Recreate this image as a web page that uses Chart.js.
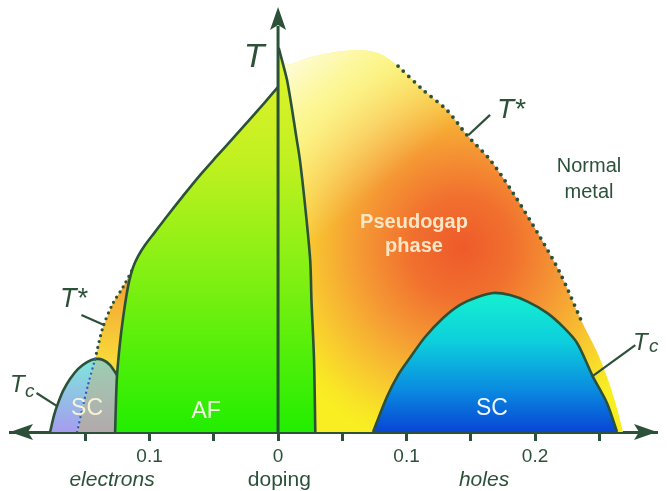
<!DOCTYPE html>
<html><head><meta charset="utf-8">
<script src="https://cdn.jsdelivr.net/npm/chart.js@4"></script>
<style>html,body{margin:0;padding:0;background:#fff}#wrap{width:667px;height:491px}</style>
</head><body><div id="wrap"><canvas id="c" width="667" height="491"></canvas></div>
<script>
// ---------- data (doping, T in arbitrary units 0..100) ----------
const xMin = -0.2086, xMax = 0.2949;
const tickValues = [-0.15, -0.1, -0.05, 0, 0.05, 0.1, 0.15, 0.2, 0.25];
const tickLabels = ['', '0.1', '', '0', '', '0.1', '', '0.2', ''];

// AF: electron-side boundary (up to the T axis)
const afLeftDoping = [-0.1268,-0.1261,-0.1253,-0.1230,-0.1206,-0.1183,-0.1160,-0.1128,-0.1089,-0.1035,-0.0957,-0.0864,-0.0739,-0.0607,-0.0475,-0.0350,-0.0218,-0.0101,0];
const afLeftT      = [0,7.5,13.4,21.0,26.9,31.6,35.4,38.9,41.5,44.1,47.2,50.9,55.7,60.6,65.1,69.3,73.8,77.8,81.4];
// AF: hole-side sliver boundary
const afRightDoping = [0.0005,0.004,0.007,0.011,0.014,0.017,0.021,0.025,0.026,0.028,0.029];
const afRightT      = [90.6,86.6,83.0,75.9,70.0,64.2,53.5,40.6,31.1,17.0,0];

// Pseudogap region (hole side)
const pgDoping = [0.0016,0.0016,0.0078,0.0249,0.0444,0.0638,0.0794,0.0934,0.1128,0.1315,0.1471,0.1650,0.1829,0.2039,0.2195,0.2358,0.2482,0.2568,0.2630,0.2685];
const pgT      = [0,87.3,86.6,88.4,89.6,90.1,89.2,86.3,80.7,75.9,70.0,64.2,56.4,46.0,37.5,26.4,18.9,12.3,6.4,0];
// T* (hole side, dotted)
const tStarHoleDoping = [0.0934,0.1128,0.1315,0.1471,0.1650,0.1829,0.2039,0.2195,0.2358];
const tStarHoleT      = [86.3,80.7,75.9,70.0,64.2,56.4,46.0,37.5,26.4];
// T* (electron side, dotted)
const tStarElecDoping = [-0.1424,-0.1362,-0.1284,-0.1206,-0.1128];
const tStarElecT      = [17.2,24.8,30.4,34.2,38.7];

// SC dome, hole side
const scHoleDoping = [0.0739,0.0848,0.0934,0.1027,0.1144,0.1284,0.1416,0.1549,0.1673,0.1805,0.1946,0.2093,0.2218,0.2327,0.2451,0.2560,0.2638];
const scHoleT      = [0,8.3,13.4,17.5,22.4,26.9,30.0,31.8,32.8,32.3,30.7,28.1,24.8,21.0,13.0,6.8,0];
// SC dome, electron side
const scElecDoping = [-0.1774,-0.1743,-0.1712,-0.1673,-0.1619,-0.1556,-0.1486,-0.1424,-0.1362,-0.1307,-0.1253];
const scElecT      = [0,4.0,6.8,9.7,12.5,14.9,16.5,17.2,17.0,15.8,13.4];
// dotted line inside the electron SC dome
const scElecLineDoping = [-0.1424,-0.1479,-0.1525,-0.1564];
const scElecLineT      = [17.2,11.1,5.2,0];

// ---------- helpers ----------
const ink = '#2c5139';
const fam = '"Liberation Sans", Arial, Helvetica, sans-serif';
const pts = (xs, ts) => xs.map((v, i) => ({x: v, y: ts[i]}));

function linGrad(chart, x0, t0, x1, t1, stops) {
  const {ctx, chartArea, scales} = chart;
  if (!chartArea) return stops[0][1];
  const g = ctx.createLinearGradient(scales.x.getPixelForValue(x0), scales.y.getPixelForValue(t0),
                                     scales.x.getPixelForValue(x1), scales.y.getPixelForValue(t1));
  stops.forEach(([o, c]) => g.addColorStop(o, c));
  return g;
}
function radGrad(chart, cx, ct, rDoping, stops) {
  const {ctx, chartArea, scales} = chart;
  if (!chartArea) return stops[0][1];
  const px = scales.x.getPixelForValue(cx), py = scales.y.getPixelForValue(ct);
  const r = Math.abs(scales.x.getPixelForValue(rDoping) - scales.x.getPixelForValue(0));
  const g = ctx.createRadialGradient(px, py, 0, px, py, r);
  stops.forEach(([o, c]) => g.addColorStop(o, c));
  return g;
}

const base = {pointRadius: 0, pointHoverRadius: 0, borderWidth: 0, fill: false, tension: 0};

// polygons built from the named arrays
const afPoly = pts(afLeftDoping, afLeftT).concat(pts(afRightDoping, afRightT));
const domeE = pts(scElecDoping, scElecT);
const lineE = pts(scElecLineDoping, scElecLineT);
const elecLeftPoly = domeE.slice(0, 8).concat(lineE.slice(1));
const elecRightPoly = lineE.slice(1).reverse().concat(domeE.slice(7)).concat([{x: scElecDoping[scElecDoping.length - 1], y: 0}]);
const wedgePoly = pts(tStarElecDoping, tStarElecT).concat([{x: -0.105, y: 0}, {x: tStarElecDoping[0], y: 0}]);

const datasets = [
  Object.assign({}, base, {data: pts(pgDoping, pgT), order: 20, fill: 'shape', tension: 0.25,
    backgroundColor: c => radGrad(c.chart, 0.143, 43.4, 0.16,
      [[0,'#ee5a2a'],[0.25,'#f1702e'],[0.5,'#f59a34'],[0.75,'#f8c830'],[0.92,'#f8e626'],[1,'#f8ee22']])}),
  Object.assign({}, base, {data: pts(pgDoping, pgT), order: 19, fill: 'shape', tension: 0.25,
    backgroundColor: c => linGrad(c.chart, 0.0054, 91.3, 0.091, 60.6,
      [[0,'rgba(255,255,250,0.95)'],[0.35,'rgba(255,253,235,0.6)'],[1,'rgba(255,255,255,0)']])}),
  Object.assign({}, base, {data: wedgePoly, order: 18, fill: 'shape',
    backgroundColor: c => linGrad(c.chart, -0.12, 38.7, -0.12, 17, [[0,'#f29a30'],[1,'#f8d83a']])}),
  Object.assign({}, base, {data: elecLeftPoly, order: 17, fill: 'shape',
    backgroundColor: c => linGrad(c.chart, -0.16, 17.2, -0.16, 0, [[0,'#7ee6da'],[1,'#a69cf0']])}),
  Object.assign({}, base, {data: elecRightPoly, order: 16, fill: 'shape',
    backgroundColor: c => linGrad(c.chart, -0.13, 17.2, -0.13, 0, [[0,'#9ccfb2'],[1,'#b4a8ac']])}),
  Object.assign({}, base, {data: afPoly, order: 15, fill: 'shape',
    backgroundColor: c => linGrad(c.chart, 0, 90.6, 0, 0,
      [[0,'#e4f22c'],[0.3,'#c0f020'],[0.6,'#80f012'],[1,'#22ee00']])}),
  Object.assign({}, base, {data: pts(scHoleDoping, scHoleT), order: 14, fill: 'shape', tension: 0.3,
    borderWidth: 2.6, borderColor: ink,
    backgroundColor: c => linGrad(c.chart, 0.17, 32.8, 0.17, 0,
      [[0,'#16f0d0'],[0.35,'#0dcfdc'],[0.7,'#0a8ae0'],[1,'#0846d4']])}),
  Object.assign({}, base, {data: pts(afLeftDoping, afLeftT), order: 13, tension: 0.3, borderWidth: 2.6, borderColor: ink}),
  Object.assign({}, base, {data: pts(afRightDoping, afRightT), order: 12, tension: 0.3, borderWidth: 2.6, borderColor: ink}),
  Object.assign({}, base, {data: domeE, order: 11, tension: 0.3, borderWidth: 2.6, borderColor: ink}),
  Object.assign({}, base, {data: pts(tStarHoleDoping, tStarHoleT), order: 10, tension: 0.3, borderWidth: 3.8,
    borderColor: ink, borderDash: [0, 7.5], borderCapStyle: 'round'}),
  Object.assign({}, base, {data: pts(tStarElecDoping, tStarElecT), order: 9, tension: 0.3, borderWidth: 3.2,
    borderColor: ink, borderDash: [0, 6], borderCapStyle: 'round'}),
  Object.assign({}, base, {data: lineE, order: 8, tension: 0.3, borderWidth: 2.4,
    borderColor: '#2a5fbf', borderDash: [0, 5], borderCapStyle: 'round'})
];

// ---------- decorations: axis arrows, labels ----------
const deco = {
  id: 'deco',
  afterDraw(chart) {
    const {ctx, scales: {x, y}} = chart;
    const X = v => x.getPixelForValue(v), Y = v => y.getPixelForValue(v);
    ctx.save();
    ctx.strokeStyle = ink; ctx.fillStyle = ink; ctx.lineWidth = 3;
    ctx.beginPath(); ctx.moveTo(X(0), Y(0) + 1.5); ctx.lineTo(X(0), Y(100) + 18); ctx.stroke();
    const head = (tx, ty, dx, dy) => {
      const L = 23, W = 8, N = 5, px = -dy, py = dx;
      ctx.beginPath(); ctx.moveTo(tx, ty);
      ctx.lineTo(tx - dx * L + px * W, ty - dy * L + py * W);
      ctx.lineTo(tx - dx * (L - N), ty - dy * (L - N));
      ctx.lineTo(tx - dx * L - px * W, ty - dy * L - py * W);
      ctx.closePath(); ctx.fill();
    };
    head(X(0), Y(100) - 1, 0, -1);
    head(x.left, Y(0), -1, 0);
    head(x.right, Y(0), 1, 0);

    ctx.lineWidth = 2.2;
    [[[0.165,74.8],[0.148,70.0]], [[-0.153,27.6],[-0.135,25.2]],
     [[0.278,20.5],[0.244,13.0]], [[-0.188,9.2],[-0.172,6.1]]].forEach(([a, b]) => {
      ctx.beginPath(); ctx.moveTo(X(a[0]), Y(a[1])); ctx.lineTo(X(b[0]), Y(b[1])); ctx.stroke();
    });

    const labels = [
      ['T', -0.0187, 86.1, 'italic 34px', ink, 'center'],
      ['T*', 0.1704, 74.1, 'italic 28px', ink, 'left'],
      ['T*', -0.1696, 29.5, 'italic 27px', ink, 'left'],
      ['T', 0.2763, 19.3, 'italic 24px', ink, 'left'],
      ['c', 0.2887, 18.9, 'italic 19px', ink, 'left'],
      ['T', -0.2086, 9.4, 'italic 24px', ink, 'left'],
      ['c', -0.1969, 8.3, 'italic 19px', ink, 'left'],
      ['Normal', 0.2420, 61.3, '20px', ink, 'center'],
      ['metal', 0.2420, 55.2, '20px', ink, 'center'],
      ['Pseudogap', 0.1058, 48.1, 'bold 20px', '#fde6c4', 'center'],
      ['phase', 0.1058, 42.5, 'bold 20px', '#fde6c4', 'center'],
      ['AF', -0.0560, 3.3, '23px', '#f5fbe8', 'center'],
      ['SC', -0.1486, 4.0, '23px', '#f7f3d6', 'center'],
      ['SC', 0.1665, 4.0, '23px', '#eef6ff', 'center'],
      ['electrons', -0.1292, -12.7, 'italic 21px', ink, 'center'],
      ['doping', 0.001, -12.7, '21px', ink, 'center'],
      ['holes', 0.1603, -12.7, 'italic 21px', ink, 'center']
    ];
    ctx.textBaseline = 'alphabetic';
    labels.forEach(([s, d, t, f, col, al]) => {
      ctx.font = f + ' ' + fam; ctx.fillStyle = col; ctx.textAlign = al;
      ctx.fillText(s, X(d), Y(t));
    });
    ctx.restore();
  }
};

new Chart(document.getElementById('c'), {
  type: 'line',
  data: {datasets},
  options: {
    responsive: false, animation: false, devicePixelRatio: 1, events: [],
    layout: {padding: {top: 8, left: 10, right: 10, bottom: 0}},
    plugins: {legend: {display: false}, tooltip: {enabled: false}},
    scales: {
      x: {
        type: 'linear', min: xMin, max: xMax, z: 1,
        afterFit(s) { s.height = 59; },
        afterBuildTicks(s) { s.ticks = tickValues.map(v => ({value: v})); },
        grid: {display: true, drawOnChartArea: false, drawTicks: true, tickLength: 9, tickWidth: 3, tickColor: ink, color: ink},
        border: {display: true, color: ink, width: 3},
        ticks: {autoSkip: false, maxRotation: 0, padding: 4, color: ink,
          font: {family: fam, size: 19}, callback: (v, i) => tickLabels[i]}
      },
      y: {type: 'linear', min: 0, max: 100, display: false}
    }
  },
  plugins: [deco]
});
</script>
</body></html>
